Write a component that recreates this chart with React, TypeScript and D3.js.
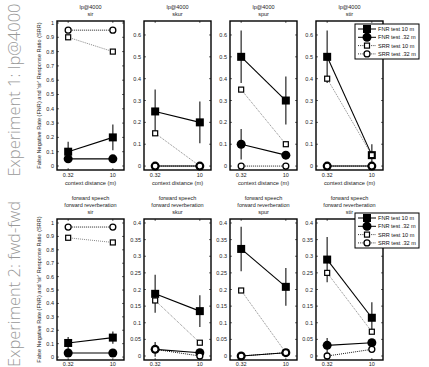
import React from "react";
import * as d3 from "d3";

// conditions shown per column
const conditions = ["sir", "skur", "spur", "stir"];
const xLabels = ["0.32", "10"];

// Experiment 1 (lp@4000)
const fnr10Top = [[0.1, 0.2], [0.25, 0.2], [0.5, 0.3], [0.5, 0.05]];
const fnr10ErrTop = [[0.07, 0.09], [0.1, 0.095], [0.12, 0.11], [0.12, 0.05]];
const fnr32Top = [[0.05, 0.05], [0, 0], [0.1, 0.05], [0, 0]];
const fnr32ErrTop = [[0, 0], [0, 0], [0.07, 0], [0, 0]];
const srr10Top = [[0.9, 0.8], [0.15, 0], [0.35, 0.1], [0.4, 0.05]];
const srr32Top = [[0.95, 0.95], [0, 0], [0, 0], [0, 0]];

// Experiment 2 (fwd-fwd)
const fnr10Bot = [[0.105, 0.145], [0.187, 0.135], [0.322, 0.208], [0.29, 0.115]];
const fnr10ErrBot = [[0.045, 0.045], [0.057, 0.048], [0.067, 0.057], [0.068, 0.047]];
const fnr32Bot = [[0.03, 0.03], [0.02, 0.01], [0, 0.01], [0.032, 0.04]];
const fnr32ErrBot = [[0, 0], [0.022, 0.005], [0, 0], [0.022, 0.01]];
const srr10Bot = [[0.89, 0.855], [0.167, 0.04], [0.197, 0.01], [0.25, 0.073]];
const srr32Bot = [[0.97, 0.97], [0.02, 0], [0, 0.01], [0, 0.02]];

const ticksFull = [0, 0.1, 0.2, 0.3, 0.4, 0.5, 0.6, 0.7, 0.8, 0.9, 1];
const ticksTop = [0, 0.1, 0.2, 0.3, 0.4, 0.5, 0.6];
const ticksBot = [0, 0.05, 0.1, 0.15, 0.2, 0.25, 0.3, 0.35, 0.4];

const legendLabels = ["FNR test 10 m", "FNR test .32 m", "SRR test 10 m", "SRR test .32 m"];

const W = 429;
const H = 367;
const lefts = [57, 144, 230, 316];
const pw = 67;
const font = "Liberation Sans, Arial, sans-serif";

type Row = {
  top: number;
  bottom: number;
  titles: string[];
  fnr10: number[][];
  fnr10Err: number[][];
  fnr32: number[][];
  fnr32Err: number[][];
  srr10: number[][];
  srr32: number[][];
  firstDomain: [number, number];
  firstTicks: number[];
  domain: [number, number];
  ticks: number[];
  xlabel: boolean;
  tickGap: number;
};

const rows: Row[] = [
  {
    top: 21, bottom: 170, titles: ["lp@4000"],
    fnr10: fnr10Top, fnr10Err: fnr10ErrTop, fnr32: fnr32Top, fnr32Err: fnr32ErrTop,
    srr10: srr10Top, srr32: srr32Top,
    firstDomain: [-0.028, 1.014], firstTicks: ticksFull,
    domain: [-0.018, 0.664], ticks: ticksTop, xlabel: true, tickGap: 7,
  },
  {
    top: 219, bottom: 360, titles: ["forward speech", "forward reverberation"],
    fnr10: fnr10Bot, fnr10Err: fnr10ErrBot, fnr32: fnr32Bot, fnr32Err: fnr32ErrBot,
    srr10: srr10Bot, srr32: srr32Bot,
    firstDomain: [-0.022, 1.03], firstTicks: ticksFull,
    domain: [-0.012, 0.412], ticks: ticksBot, xlabel: false, tickGap: 6,
  },
];

const Marker = ({ kind, x, y }: { kind: string; x: number; y: number }) => {
  if (kind === "fsq") return <rect x={x - 4} y={y - 4} width={8} height={8} fill="#000" />;
  if (kind === "fci") return <circle cx={x} cy={y} r={4.5} fill="#000" />;
  if (kind === "osq") return <rect x={x - 2.5} y={y - 2.5} width={5} height={5} fill="#fff" stroke="#000" strokeWidth={1.2} />;
  return <circle cx={x} cy={y} r={3} fill="#fff" stroke="#000" strokeWidth={1.3} />;
};

const Legend = ({ x, y }: { x: number; y: number }) => {
  const kinds = ["fsq", "fci", "osq", "oci"];
  return (
    <g transform={`translate(${x},${y})`}>
      <rect x={0} y={0} width={64} height={35} fill="#fff" stroke="#000" strokeWidth={1} />
      {legendLabels.map((lab, i) => {
        const cy = 5 + i * 8.3;
        const dotted = i >= 2;
        return (
          <g key={lab}>
            <line x1={3} x2={21} y1={cy} y2={cy} stroke="#000" strokeWidth={dotted ? 0.8 : 1}
              strokeDasharray={dotted ? "1,1.2" : undefined} />
            <Marker kind={kinds[i]} x={12} y={cy} />
            <text x={23} y={cy + 2} fontSize={5.6} fontFamily={font} fill="#111">{lab}</text>
          </g>
        );
      })}
    </g>
  );
};

const Panel = ({ row, col }: { row: Row; col: number }) => {
  const left = lefts[col];
  const x = d3.scaleLinear().domain([0.75, 2.25]).range([left, left + pw]);
  const first = col === 0;
  const y = d3.scaleLinear().domain(first ? row.firstDomain : row.domain).range([row.bottom, row.top]);
  const ticks = first ? row.firstTicks : row.ticks;
  const xs = [1, 2];
  const line = d3.line<number>().x((_, i) => x(xs[i])).y((d) => y(d));
  const titleLines = [...row.titles, conditions[col]];
  const fmt = (t: number) => (t === 0 ? "0" : String(+t.toFixed(2)));
  const cx = left + pw / 2;
  return (
    <g>
      {titleLines.map((t, i) => (
        <text key={i} x={cx} y={row.top - 5 - (titleLines.length - 1 - i) * 7}
          textAnchor="middle" fontSize={5.5} fontFamily={font} fill="#222">{t}</text>
      ))}
      {ticks.map((t) => (
        <g key={t}>
          <line x1={left} x2={left + 2} y1={y(t)} y2={y(t)} stroke="#000" strokeWidth={0.6} />
          <line x1={left + pw - 2} x2={left + pw} y1={y(t)} y2={y(t)} stroke="#000" strokeWidth={0.6} />
          <text x={left - 3} y={y(t) + 2} textAnchor="end" fontSize={5.5} fontFamily={font} fill="#222">{fmt(t)}</text>
        </g>
      ))}
      {xs.map((v, i) => (
        <g key={v}>
          <line x1={x(v)} x2={x(v)} y1={row.bottom} y2={row.bottom - 2} stroke="#000" strokeWidth={0.6} />
          <line x1={x(v)} x2={x(v)} y1={row.top} y2={row.top + 2} stroke="#000" strokeWidth={0.6} />
          <text x={x(v)} y={row.bottom + row.tickGap} textAnchor="middle" fontSize={5.5} fontFamily={font} fill="#222">{xLabels[i]}</text>
        </g>
      ))}
      {row.xlabel && (
        <text x={cx} y={row.bottom + 15} textAnchor="middle" fontSize={5.7} fontFamily={font} fill="#222">context distance (m)</text>
      )}
      {/* error bars */}
      {[
        [row.fnr10[col], row.fnr10Err[col]],
        [row.fnr32[col], row.fnr32Err[col]],
      ].map(([vals, errs], s) =>
        vals.map((v, i) =>
          errs[i] > 0 ? (
            <line key={`${s}-${i}`} x1={x(xs[i])} x2={x(xs[i])} y1={y(v - errs[i])} y2={y(v + errs[i])}
              stroke="#444" strokeWidth={1.4} />
          ) : null
        )
      )}
      <path d={line(row.fnr10[col]) || ""} fill="none" stroke="#000" strokeWidth={1.1} />
      <path d={line(row.fnr32[col]) || ""} fill="none" stroke="#000" strokeWidth={1.1} />
      <path d={line(row.srr10[col]) || ""} fill="none" stroke="#555" strokeWidth={0.7} strokeDasharray="1,1" />
      <path d={line(row.srr32[col]) || ""} fill="none" stroke="#000" strokeWidth={0.9} strokeDasharray="1,1" />
      {row.fnr10[col].map((v, i) => <Marker key={`a${i}`} kind="fsq" x={x(xs[i])} y={y(v)} />)}
      {row.fnr32[col].map((v, i) => <Marker key={`b${i}`} kind="fci" x={x(xs[i])} y={y(v)} />)}
      {row.srr10[col].map((v, i) => <Marker key={`c${i}`} kind="osq" x={x(xs[i])} y={y(v)} />)}
      {row.srr32[col].map((v, i) => <Marker key={`d${i}`} kind="oci" x={x(xs[i])} y={y(v)} />)}
      <rect x={left} y={row.top} width={pw} height={row.bottom - row.top} fill="none" stroke="#000" strokeWidth={1.4} />
    </g>
  );
};

export default function App() {
  return (
    <svg width={W} height={H} style={{ position: "absolute", left: 0, top: 0 }}>
      <rect width={W} height={H} fill="#fff" />
      {rows.map((row, r) => (
        <g key={r}>
          {conditions.map((_, c) => <Panel key={c} row={row} col={c} />)}
          <text transform={`translate(41,${(row.top + row.bottom) / 2}) rotate(-90)`} textAnchor="middle"
            fontSize={5.6} fontFamily={font} fill="#222">
            False Negative Rate (FNR) and 'sir' Response Ratio (SRR)
          </text>
        </g>
      ))}
      <text transform={`translate(20,90) rotate(-90)`} textAnchor="middle" fontSize={16.5}
        fontFamily="Open Sans" fontWeight={300} fill="#999">Experiment 1: lp@4000</text>
      <text transform={`translate(20,284) rotate(-90)`} textAnchor="middle" fontSize={16.5}
        fontFamily="Open Sans" fontWeight={300} fill="#999">Experiment 2: fwd-fwd</text>
      <Legend x={355} y={24} />
      <Legend x={355} y={213} />
    </svg>
  );
}
